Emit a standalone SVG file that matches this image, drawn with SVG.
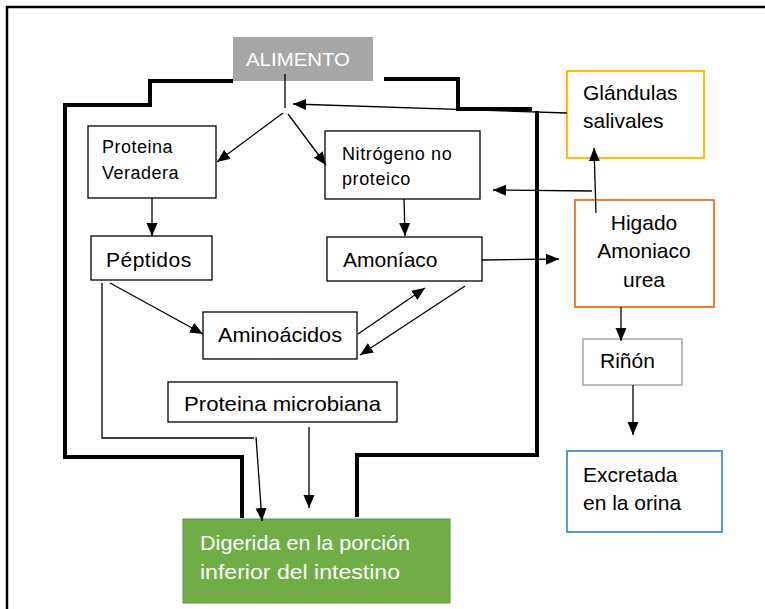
<svg xmlns="http://www.w3.org/2000/svg" width="765" height="609" viewBox="0 0 765 609">
<style>
  text { font-family: "Liberation Sans", Arial, sans-serif; fill: #000; }
  .box { fill: #fff; stroke: #000; stroke-width: 1.3; }
  .t18 { font-size: 18px; }
  .t20 { font-size: 21px; }
  .wall { fill: none; stroke: #000; stroke-width: 4; }
  .conn { fill: none; stroke: #000; stroke-width: 1.3; }
  .arr { marker-end: url(#ah); }
</style>
<defs>
  <marker id="ah" markerUnits="userSpaceOnUse" markerWidth="14" markerHeight="14" viewBox="0 0 14 14" refX="13" refY="7" orient="auto">
    <path d="M0,1.5 L13,7 L0,12.5 Z" fill="#000"/>
  </marker>
</defs>
<rect x="0" y="0" width="765" height="609" fill="#fff"/>
<g id="frame">
  <path d="M765,7 L7,7 L7,609" fill="none" stroke="#000" stroke-width="2.5"/>
</g>
<g id="walls">
  <path class="wall" d="M233,81 L150,81 L150,105 L65,105 L65,457 L242,457 L242,518"/>
  <path class="wall" d="M384,79 L458,79 L458,109 L532,109"/>
  <path class="wall" d="M537,111 L537,455 L357,455 L357,517"/>
</g>
<g id="alimento">
  <rect x="233" y="37" width="140" height="44" fill="#a6a6a6"/>
  <text x="246" y="66" font-size="19" style="fill:#fff" textLength="104" lengthAdjust="spacingAndGlyphs">ALIMENTO</text>
</g>
<g id="proteina-veradera">
  <rect class="box" x="88" y="126" width="128" height="72"/>
  <text class="t18" x="102" y="153" letter-spacing="0.5">Proteina</text>
  <text class="t18" x="102" y="179" letter-spacing="0.5">Veradera</text>
</g>
<g id="nitrogeno">
  <rect class="box" x="325" y="131" width="155" height="68"/>
  <text class="t18" x="342" y="160" letter-spacing="0.6">Nitrógeno no</text>
  <text class="t18" x="342" y="185" letter-spacing="0.6">proteico</text>
</g>
<g id="peptidos">
  <rect class="box" x="91" y="236" width="121" height="44"/>
  <text class="t20" x="106" y="267" letter-spacing="0.5">Péptidos</text>
</g>
<g id="amoniaco">
  <rect class="box" x="327" y="237" width="155" height="44"/>
  <text class="t20" x="343" y="267">Amoníaco</text>
</g>
<g id="aminoacidos">
  <rect class="box" x="203" y="312" width="154" height="47"/>
  <text class="t20" x="218" y="342" textLength="124" lengthAdjust="spacingAndGlyphs">Aminoácidos</text>
</g>
<g id="proteina-microbiana">
  <rect class="box" x="168" y="382" width="229" height="40"/>
  <text class="t20" x="184" y="411" textLength="197" lengthAdjust="spacingAndGlyphs">Proteina microbiana</text>
</g>
<g id="digerida">
  <rect x="183" y="519" width="267" height="84" fill="#70ad47" stroke="#5f943c" stroke-width="1"/>
  <text class="t20" x="200" y="550" style="fill:#fff" textLength="210" lengthAdjust="spacingAndGlyphs">Digerida en la porción</text>
  <text class="t20" x="200" y="579" style="fill:#fff" textLength="200" lengthAdjust="spacingAndGlyphs">inferior del intestino</text>
</g>
<g id="glandulas">
  <rect x="567" y="71" width="137" height="87" fill="#fff" stroke="#ffc000" stroke-width="2"/>
  <text class="t20" x="583" y="100">Glándulas</text>
  <text class="t20" x="583" y="128">salivales</text>
</g>
<g id="higado">
  <rect x="575" y="200" width="139" height="107" fill="#fff" stroke="#ed7d31" stroke-width="2"/>
  <text class="t20" x="644" y="230" text-anchor="middle">Higado</text>
  <text class="t20" x="644" y="258" text-anchor="middle">Amoniaco</text>
  <text class="t20" x="644" y="287" text-anchor="middle">urea</text>
</g>
<g id="rinon">
  <rect x="583" y="339" width="99" height="46" fill="#fff" stroke="#a6a6a6" stroke-width="1.5"/>
  <text class="t20" x="600" y="368">Riñón</text>
</g>
<g id="excretada">
  <rect x="567" y="451" width="155" height="81" fill="#fff" stroke="#5b9bd5" stroke-width="2"/>
  <text class="t20" x="583" y="482">Excretada</text>
  <text class="t20" x="583" y="510">en la orina</text>
</g>
<g id="connectors">
  <path class="conn" d="M285,74 L285,108"/>
  <path class="conn arr" d="M567,113 L293,104"/>
  <path class="conn arr" d="M283,113 L217,162"/>
  <path class="conn arr" d="M288,114 L326,165"/>
  <path class="conn arr" d="M152,198 L152,236"/>
  <path class="conn arr" d="M404,199 L405,236"/>
  <path class="conn arr" d="M592,191 L493,190"/>
  <path class="conn arr" d="M482,260 L559,259"/>
  <path class="conn arr" d="M110,283 L203,334"/>
  <path class="conn arr" d="M358,334 L425,288"/>
  <path class="conn arr" d="M465,286 L360,355"/>
  <path class="conn" d="M102,283 L102,438 L254,438"/>
  <path class="conn arr" d="M256,437 L262,521"/>
  <path class="conn arr" d="M309,427 L309,508"/>
  <path class="conn arr" d="M596,213 L594,148"/>
  <path class="conn arr" d="M621,307 L621,341"/>
  <path class="conn arr" d="M633,385 L633,435"/>
</g>
</svg>
